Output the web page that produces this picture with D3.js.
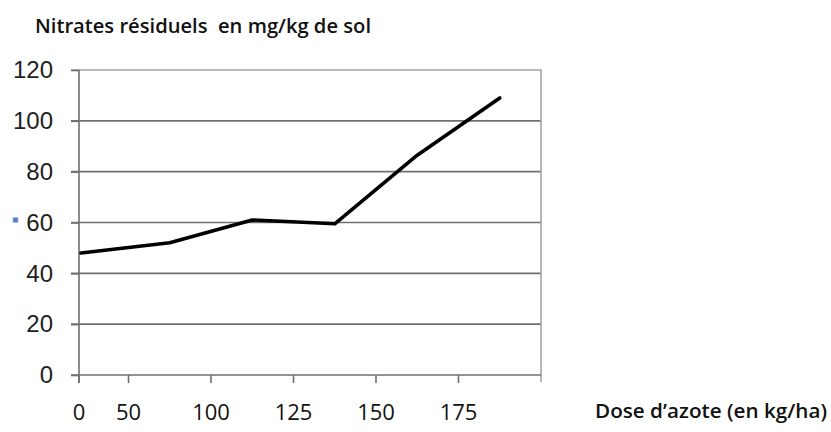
<!DOCTYPE html>
<html>
<head>
<meta charset="utf-8">
<script src="https://cdn.jsdelivr.net/npm/d3@7"></script>
<style>
	html, body { margin: 0; padding: 0; background: #fff; }
	svg { display: block; }
</style>
</head>
<body>
<div id="chart"></div>
<script>
// nitrates residuels vs dose d'azote

var doses = ["0", "50", "100", "125", "150", "175"];
var nitrates = [48, 52, 61, 59.5, 86.5, 109];
var yTicks = [0, 20, 40, 60, 80, 100, 120];
var titleText = "Nitrates résiduels  en mg/kg de sol";
var xTitleText = "Dose d’azote (en kg/ha)";

var width = 831,
	height = 432;
var plot = {left: 79, right: 541, top: 70, bottom: 375};

var svg = d3.select("#chart").append("svg")
	.attr("width", width)
	.attr("height", height);

// excel style category axis : ticks between categories, first band cut by the y axis
var x = d3.scaleBand()
	.domain(doses)
	.range([46, plot.right])
	.paddingInner(0)
	.paddingOuter(0);
var y = d3.scaleLinear()
	.domain([0, 120])
	.range([plot.bottom, plot.top]);

function xEdge(d) { return Math.max(plot.left, x(d)); }
function xMid(d) {
	// the cut band puts its point on the y axis
	if (x(d) < plot.left) return plot.left + 2;
	return x(d) + x.bandwidth() / 2;
}

// grid
svg.append("g")
	.selectAll("line")
	.data(yTicks.filter(function(d) { return d > 0 && d < 120; }))
	.enter().append("line")
	.attr("x1", plot.left - 8)
	.attr("x2", plot.right)
	.attr("y1", function(d) { return y(d); })
	.attr("y2", function(d) { return y(d); })
	.style("stroke", "#6f6f6f")
	.style("stroke-width", 1.6);

// top + right border
svg.append("path")
	.attr("d", "M" + (plot.left - 8) + "," + y(120) + "H" + plot.right + "V" + (plot.bottom + 7))
	.style("fill", "none")
	.style("stroke", "#a3a3a3")
	.style("stroke-width", 1.6);

// y axis
var yAxis = svg.append("g")
	.attr("transform", "translate(" + plot.left + ",0)")
	.call(d3.axisLeft(y).tickValues(yTicks).tickSize(8).tickSizeOuter(0).tickPadding(18));
yAxis.select(".domain").style("stroke", "#6f6f6f").style("stroke-width", 1.6);
yAxis.selectAll(".tick line").style("stroke", "#6f6f6f").style("stroke-width", 1.6);
yAxis.selectAll(".tick text")
	.style("font-family", "'Liberation Sans', Arial, sans-serif")
	.style("font-size", "24px")
	.style("fill", "#1e1e1e");
yAxis.select(".domain").attr("d", "M0," + plot.top + "V" + (plot.bottom + 8));

// x axis
var xAxisG = svg.append("g");
xAxisG.append("line")
	.attr("x1", plot.left - 8)
	.attr("x2", plot.right)
	.attr("y1", y(0))
	.attr("y2", y(0))
	.style("stroke", "#6f6f6f")
	.style("stroke-width", 1.6);
xAxisG.selectAll("line.tick")
	.data(doses)
	.enter().append("line")
	.attr("class", "tick")
	.attr("x1", function(d) { return xEdge(d); })
	.attr("x2", function(d) { return xEdge(d); })
	.attr("y1", y(0))
	.attr("y2", y(0) + 8)
	.style("stroke", "#6f6f6f")
	.style("stroke-width", 1.6);
xAxisG.selectAll("text")
	.data(doses)
	.enter().append("text")
	.attr("x", function(d) { return xEdge(d); })
	.attr("y", 420)
	.attr("text-anchor", "middle")
	.style("font-family", "'Open Sans', sans-serif")
	.style("font-size", "22px")
	.style("fill", "#111")
	.text(function(d) { return d; });

// series
var line = d3.line()
	.x(function(d) { return xMid(d.dose); })
	.y(function(d) { return y(d.value); });
var series = doses.map(function(d, i) { return {dose: d, value: nitrates[i]}; });
svg.append("path")
	.datum(series)
	.attr("d", line)
	.style("fill", "none")
	.style("stroke", "#000")
	.style("stroke-width", 3.6)
	.style("stroke-linejoin", "round")
	.style("stroke-linecap", "round");

// titles
svg.append("text")
	.attr("x", 35)
	.attr("y", 33)
	.attr("textLength", 336)
	.attr("lengthAdjust", "spacingAndGlyphs")
	.style("font-family", "'Open Sans', sans-serif")
	.style("font-weight", 600)
	.style("font-size", "19px")
	.style("fill", "#111")
	.style("white-space", "pre")
	.text(titleText);

svg.append("text")
	.attr("x", 595)
	.attr("y", 418)
	.attr("textLength", 232)
	.attr("lengthAdjust", "spacingAndGlyphs")
	.style("font-family", "'Open Sans', sans-serif")
	.style("font-weight", 600)
	.style("font-size", "19px")
	.style("fill", "#111")
	.text(xTitleText);

// stray legend marker left of the 60 label
svg.append("rect")
	.attr("x", 13)
	.attr("y", y(60) - 5)
	.attr("width", 5)
	.attr("height", 5)
	.style("fill", "#4f7fd0")
	.style("stroke", "#a9c0e6")
	.style("stroke-width", 0.8);
</script>
</body>
</html>
